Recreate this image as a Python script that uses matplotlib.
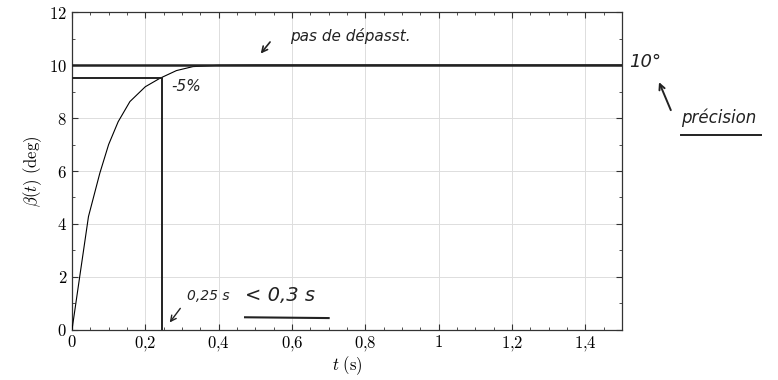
import matplotlib
matplotlib.use("Agg")
import matplotlib.pyplot as plt
from matplotlib.ticker import MultipleLocator, FuncFormatter

plt.rcParams['mathtext.fontset'] = 'cm'
plt.rcParams['font.family'] = ['DejaVu Serif']

# Response curve
t_vals = [0, 0.021, 0.045, 0.076, 0.10, 0.126, 0.158, 0.20, 0.24, 0.285, 0.33,
          0.40, 0.50, 0.60, 0.70, 0.80, 0.90, 1.0, 1.1, 1.2, 1.3, 1.4, 1.5]
beta_vals = [0, 2.0, 4.28, 5.92, 7.0, 7.86, 8.62, 9.18, 9.5, 9.79, 9.94,
             9.99, 10.0, 10.0, 10.0, 10.0, 10.0, 10.0, 10.0, 10.0, 10.0, 10.0, 10.0]

# Handwritten annotation values
setpoint = 10.0
level_5pct = 9.5
t_5pct = 0.245

x_ticks = [0, 0.2, 0.4, 0.6, 0.8, 1.0, 1.2, 1.4]
y_ticks = [0, 2, 4, 6, 8, 10, 12]

fig = plt.figure(figsize=(7.78, 3.8), dpi=100)
ax = fig.add_axes([0.0925, 0.1316, 0.7070, 0.8368])

ax.plot(t_vals, beta_vals, color='black', lw=0.8, zorder=3)

ink = '#222222'
ax.plot([0, 1.5], [setpoint, setpoint], color=ink, lw=1.8, zorder=4)
ax.plot([0, t_5pct], [level_5pct, level_5pct], color=ink, lw=1.4, zorder=4)
ax.plot([t_5pct, t_5pct], [0, level_5pct], color=ink, lw=1.4, zorder=4)

ax.set_xlim(0, 1.5)
ax.set_ylim(0, 12)
ax.set_xticks(x_ticks)
ax.set_yticks(y_ticks)
ax.xaxis.set_minor_locator(MultipleLocator(0.05))
ax.yaxis.set_minor_locator(MultipleLocator(1))

def fmt(v, pos):
    s = ('%g' % round(v, 2)).replace('.', '{,}')
    return '$%s$' % s

ax.xaxis.set_major_formatter(FuncFormatter(fmt))
ax.yaxis.set_major_formatter(FuncFormatter(fmt))
ax.tick_params(which='both', direction='in', top=True, right=True,
               labelsize=12, colors='#333333', labelcolor='black')
ax.tick_params(which='major', length=4)
ax.tick_params(which='minor', length=2)
ax.tick_params(axis='x', pad=3)
ax.grid(True, which='major', color='#dddddd', lw=0.7)
for s in ax.spines.values():
    s.set_color('#333333')
    s.set_linewidth(0.9)

ax.set_xlabel(r'$t\ \mathrm{(s)}$', fontsize=12, labelpad=1)
ax.set_ylabel(r'$\beta(t)\ \mathrm{(deg)}$', fontsize=12)

hw = dict(color=ink, fontstyle='italic', family='DejaVu Sans')
ax.text(0.594, 11.1, 'pas de dépasst.', fontsize=11, va='center', **hw)
ax.annotate('', xy=(0.51, 10.35), xytext=(0.545, 10.95),
            arrowprops=dict(arrowstyle='->', color=ink, lw=1.2))
ax.text(0.27, 9.2, '-5%', fontsize=11, va='center', **hw)
ax.text(0.315, 1.3, '0,25 s', fontsize=10, va='center', **hw)
ax.text(0.472, 1.3, '< 0,3 s', fontsize=14, va='center', **hw)
ax.plot([0.472, 0.70], [0.48, 0.45], color=ink, lw=1.5, clip_on=False)
ax.annotate('', xy=(0.262, 0.2), xytext=(0.30, 0.9),
            arrowprops=dict(arrowstyle='->', color=ink, lw=1.0))
ax.text(1.52, 10.1, '10°', fontsize=13, va='center', clip_on=False, **hw)
ax.annotate('', xy=(1.598, 9.45), xytext=(1.636, 8.2),
            arrowprops=dict(arrowstyle='->', color=ink, lw=1.4),
            annotation_clip=False)
ax.text(1.66, 8.0, 'précision', fontsize=12, va='center', clip_on=False, **hw)
ax.plot([1.66, 1.88], [7.36, 7.36], color=ink, lw=1.4, clip_on=False)

fig.savefig('out.png', dpi=100)
